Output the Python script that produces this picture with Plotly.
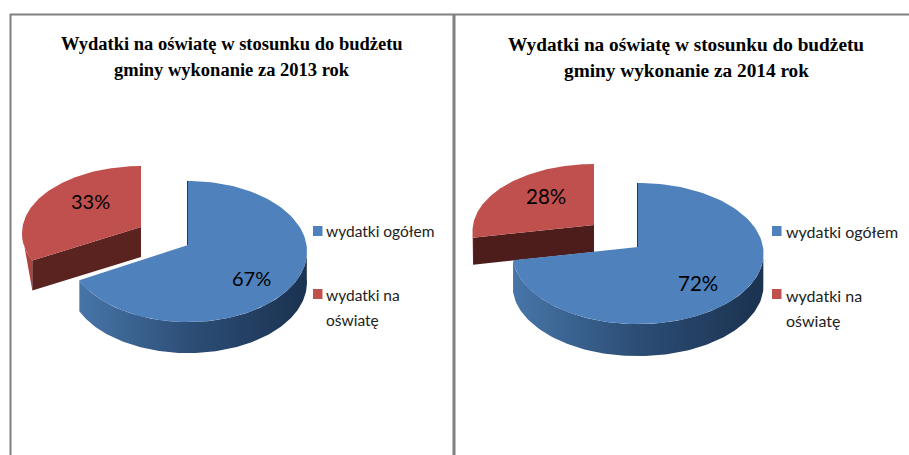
import math
import plotly.graph_objects as go

categories = ["wydatki ogółem", "wydatki na<br>oświatę"]
values_2013 = [67, 33]
values_2014 = [72, 28]
title_line_1 = "Wydatki na oświatę w stosunku do budżetu"
title_2013 = "gminy wykonanie za 2013 rok"
title_2014 = "gminy wykonanie za 2014 rok"

BLUE, RED = "#4f81bd", "#c0504d"
BLUE_WALL = [[0, "#4775a8"], [0.5, "#2c4d75"], [1, "#1b3250"]]
RED_CUT = {"2013": "#5a2320", "2014": "#4c1d1b"}
RED_WALL = "#ad4340"
GREY = "#808080"
K = 0.092  # perspective strength of the pie's tilt


def project(cx, cy, rx, ry, deg):
    t = math.radians(deg)
    d = 1 + K * math.cos(t)
    return cx + rx * math.sin(t) / d, cy - ry * math.cos(t) / d


def arc(geom, a, b, n=120):
    pts = [project(*geom, a + (b - a) * i / n) for i in range(n + 1)]
    return [p[0] for p in pts], [p[1] for p in pts]


def poly(x, y, color=None, grad=None):
    kw = dict(fillgradient=dict(type="horizontal", colorscale=grad)) if grad else dict(fillcolor=color)
    return go.Scatter(x=x, y=y, mode="lines", fill="toself", line=dict(width=0),
                      hoverinfo="skip", showlegend=False, **kw)


def pie(fig, values, blue_geom, red_geom, blue_depth, red_depth, cut_color):
    split = 360 * values[0] / sum(values)
    # exploded slice
    rcx, rcy = red_geom[0], red_geom[1]
    ax, ay = arc(red_geom, split, 360)
    k = ax.index(min(ax))
    fig.add_trace(poly(ax[:k + 1] + [ax[0]], ay[:k + 1] + [ay[0] + red_depth], RED_WALL))
    fig.add_trace(poly([rcx, ax[0], ax[0], rcx], [rcy, ay[0], ay[0] + red_depth, rcy + red_depth], cut_color))
    fig.add_trace(poly([rcx] + ax + [rcx], [rcy] + ay + [rcy], RED))
    # main slice
    cx, cy = blue_geom[0], blue_geom[1]
    wx, wy = arc(blue_geom, 92, split)
    fig.add_trace(poly(wx + wx[::-1], wy + [v + blue_depth for v in wy][::-1], grad=BLUE_WALL))
    tx, ty = arc(blue_geom, 0, split)
    fig.add_trace(poly([cx] + tx + [cx], [cy] + ty + [cy], BLUE))
    fig.add_shape(type="line", x0=cx - 0.5, x1=cx - 0.5, y0=ty[0], y1=cy,
                  line=dict(color="#1f3a5c", width=1))


fig = go.Figure()
pie(fig, values_2013, (188, 245, 118.5, 70), (141, 227, 118.5, 66.6), 31, 30, RED_CUT["2013"])
pie(fig, values_2014, (638, 247, 125, 70), (594, 225, 121, 66.6), 32, 27, RED_CUT["2014"])

ann = []


def text(x, y, s, size, family, color="#111111", anchor="center", bold=False):
    ann.append(dict(x=x, y=y, text=f"<b>{s}</b>" if bold else s, showarrow=False, xref="x", yref="y",
                    xanchor=anchor, yanchor="middle", align="left",
                    font=dict(size=size, family=family, color=color)))


SERIF = "Liberation Serif"
for cx, second, size in ((232, title_2013, 18.5), (686, title_2014, 19.3)):
    text(cx, 44, title_line_1, size, SERIF, "#000000", bold=True)
    text(cx, 70, second, size, SERIF, "#000000", bold=True)

LATO = "Lato"
for (x, y), v in zip(((251, 278), (90, 201)), values_2013):
    text(x, y, f"{v}%", 20, LATO, "#000000")
for (x, y), v in zip(((698, 283), (546, 196)), values_2014):
    text(x, y, f"{v}%", 20.5, LATO, "#000000")

shapes = []
for swatch_x, text_x, size in ((313, 324, 15.5), (772, 784, 16)):
    shapes.append(dict(type="rect", x0=swatch_x, x1=swatch_x + 9.5, y0=226, y1=236,
                       fillcolor=BLUE, line=dict(width=0)))
    shapes.append(dict(type="rect", x0=swatch_x, x1=swatch_x + 9.5, y0=289, y1=299,
                       fillcolor=RED, line=dict(width=0)))
    text(text_x, 231, categories[0], size, LATO, "#222222", anchor="left")
    first, second = categories[1].split("<br>")
    text(text_x, 295, first, size, LATO, "#222222", anchor="left")
    text(text_x, 320, second, size, LATO, "#222222", anchor="left")

for s in ((10, 14.5, 909, 14.5, 2), (10.5, 14, 10.5, 455, 2), (454, 14, 454, 455, 3)):
    shapes.append(dict(type="line", x0=s[0], y0=s[1], x1=s[2], y1=s[3], line=dict(color=GREY, width=s[4])))

fig.update_layout(
    width=909, height=455, margin=dict(l=0, r=0, t=0, b=0),
    paper_bgcolor="white", plot_bgcolor="white", showlegend=False,
    xaxis=dict(range=[0, 909], visible=False, fixedrange=True),
    yaxis=dict(range=[455, 0], visible=False, fixedrange=True),
    annotations=ann,
)
for s in shapes:
    fig.add_shape(**s)

fig.write_html("out.html", config=dict(displayModeBar=False),
               post_script="document.body.style.margin='0';document.body.style.overflow='hidden';")
